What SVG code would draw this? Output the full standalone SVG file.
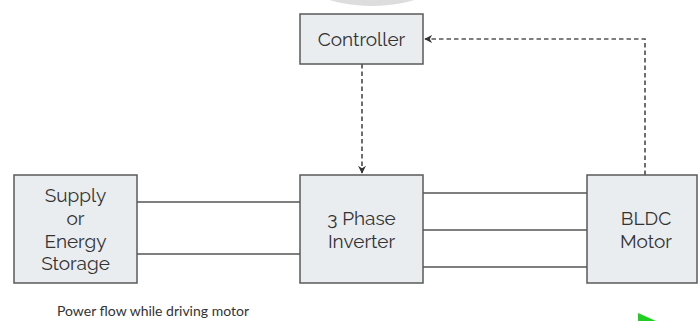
<svg xmlns="http://www.w3.org/2000/svg" width="699" height="321" viewBox="0 0 699 321">
  <style>
    .box { fill: #e9edef; stroke: #5a5a5a; stroke-width: 1.5; }
    .lbl { font-family: "Raleway", "Lato", "Open Sans", sans-serif; font-size: 19px; fill: #333; text-anchor: middle; }
    .wire { stroke: #555; stroke-width: 1.3; fill: none; }
    .dash { stroke: #555; stroke-width: 1.7; fill: none; stroke-dasharray: 4.5 3; }
    .cap { font-family: "Lato", "Open Sans", sans-serif; font-size: 14px; fill: #333; }
  </style>
  <defs>
    <marker id="arr" viewBox="0 0 10 10" refX="9" refY="5" markerWidth="8" markerHeight="8" orient="auto" markerUnits="userSpaceOnUse">
      <path d="M0,0 L10,5 L0,10 L3,5 Z" fill="#333"/>
    </marker>
  </defs>
  <rect width="699" height="321" fill="#fff"/>
  <!-- partial disc at the top edge -->
  <ellipse cx="372" cy="-40" rx="86" ry="46" fill="#dddddd"/>

  <g id="connectors">
    <path class="wire" d="M137,202 H300 M137,254 H300"/>
    <path class="wire" d="M423,193 H587 M423,230 H587 M423,267 H587"/>
    <path class="dash" d="M362,64 V173" marker-end="url(#arr)"/>
    <path class="dash" d="M645,175 V39 H425" marker-end="url(#arr)"/>
  </g>

  <g id="controller">
    <rect class="box" x="300" y="14" width="123" height="50"/>
    <text class="lbl" x="361.5" y="46">Controller</text>
  </g>
  <g id="supply">
    <rect class="box" x="14" y="175" width="123" height="108"/>
    <text class="lbl" x="75.5" y="201.5">Supply</text>
    <text class="lbl" x="75.5" y="224.5">or</text>
    <text class="lbl" x="75.5" y="247.5">Energy</text>
    <text class="lbl" x="75.5" y="269.5">Storage</text>
  </g>
  <g id="inverter">
    <rect class="box" x="300" y="175" width="123" height="108"/>
    <text class="lbl" x="361.5" y="224.5">3 Phase</text>
    <text class="lbl" x="361.5" y="247.5">Inverter</text>
  </g>
  <g id="motor">
    <rect class="box" x="587" y="175" width="110" height="108"/>
    <text class="lbl" x="646" y="224.5">BLDC</text>
    <text class="lbl" x="646" y="247.5">Motor</text>
  </g>

  <text class="cap" x="57" y="316">Power flow while driving motor</text>
  <polygon points="638,313 658,322 638,322" fill="#1fcf1f"/>
</svg>
